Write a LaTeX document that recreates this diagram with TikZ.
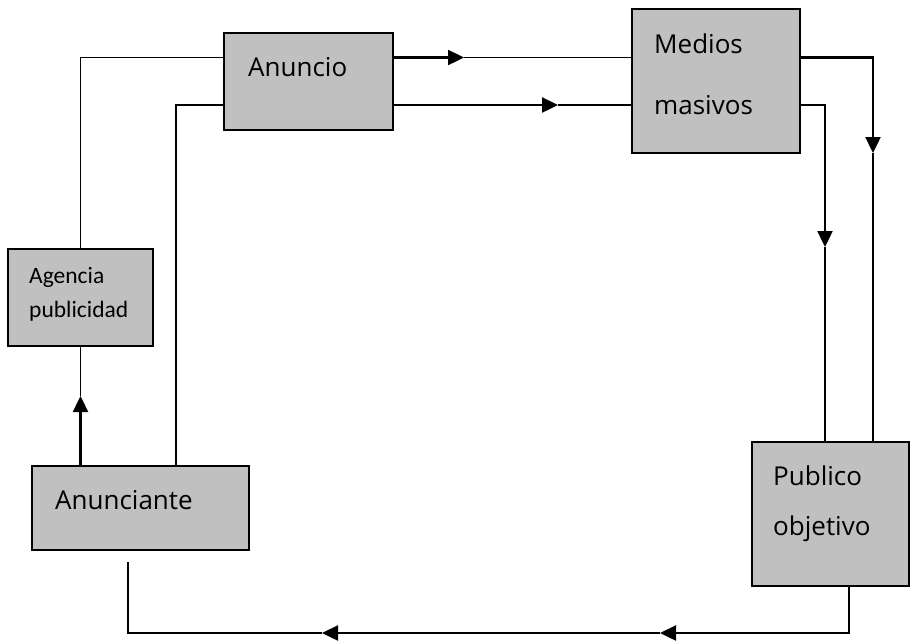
\documentclass[tikz,border=0pt]{standalone}
\usepackage{fontspec}
\setmainfont{Open Sans}
\newfontfamily\calfont{Carlito}
\usetikzlibrary{arrows.meta}
\definecolor{boxgray}{RGB}{192,192,192}
\begin{document}
\begin{tikzpicture}[x=1pt,y=-1pt,
  box/.style={draw=black,fill=boxgray,line width=2pt,inner sep=0pt},
  lbl/.style={anchor=base west,inner sep=0pt,font=\fontsize{26}{30}\selectfont},
  sml/.style={anchor=base west,inner sep=0pt,font=\calfont\fontsize{23.5}{28}\selectfont},
  wire/.style={line width=1.8pt},
  tip/.style={-{Triangle[length=16pt,width=15pt]},line width=2.4pt}
]
\useasboundingbox (0,0) rectangle (911,641);

% boxes
\node[box,minimum width=169pt,minimum height=97pt] (anuncio) at (308.5,81.5) {};
\node[box,minimum width=168pt,minimum height=144pt] (medios) at (716,81) {};
\node[box,minimum width=145pt,minimum height=97pt] (agencia) at (80.5,297.5) {};
\node[box,minimum width=217pt,minimum height=84pt] (anunciante) at (140.5,508) {};
\node[box,minimum width=157pt,minimum height=144pt] (publico) at (830.5,514) {};

% texts
\node[lbl] (tanuncio) at (248,76) {Anuncio};
\node[lbl] (tmedios1) at (654,53) {Medios};
\node[lbl] (tmedios2) at (654,114) {masivos};
\node[sml] (tagencia1) at (29,283) {Agencia};
\node[sml] (tagencia2) at (29,317) {publicidad};
\node[lbl] (tanunciante) at (55,509) {Anunciante};
\node[lbl] (tpublico1) at (773,485) {Publico};
\node[lbl] (tpublico2) at (773,535) {objetivo};

% connectors
\draw[wire] (agencia.north) |- (anuncio.west |- 0,57.5);
\draw[wire] (anunciante.north -| 176,0) |- (anuncio.west |- 0,105);

\coordinate (a1) at (80.5,396);
\draw[tip] (anunciante.north -| agencia.south) -- (a1);
\draw[wire] (a1) -- (agencia.south);

\coordinate (a2) at (464,57.5);
\draw[tip] (anuncio.east |- a2) -- (a2);
\draw[wire] (a2) -- (medios.west |- a2);

\coordinate (a3) at (558,105);
\draw[tip] (anuncio.east |- a3) -- (a3);
\draw[wire] (a3) -- (medios.west |- a3);

\coordinate (a4) at (873,153);
\draw[tip] (medios.east |- 0,57.5) -| (a4);
\draw[wire] (a4) -- (publico.north -| a4);

\coordinate (a5) at (825,247);
\draw[tip] (medios.east |- 0,105) -| (a5);
\draw[wire] (a5) -- (publico.north -| a5);

\coordinate (a6) at (660,633);
\draw[tip] (publico.south -| 849,0) |- (a6);
\coordinate (a7) at (322,633);
\draw[tip] (a6) -- (a7);
\coordinate (e1) at (128,562);
\draw[wire] (a7) -| (e1);
\end{tikzpicture}
\end{document}
